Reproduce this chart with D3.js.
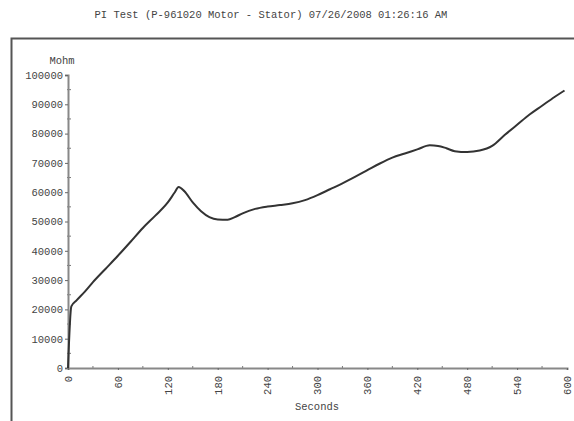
<!DOCTYPE html>
<html>
<head>
<meta charset="utf-8">
<script src="https://cdn.jsdelivr.net/npm/d3@7"></script>
<style>
  body { margin: 0; background: #fff; }
  text { font-family: "Liberation Mono", "DejaVu Sans Mono", monospace; fill: #444; }
</style>
</head>
<body>
<script>
const title = "PI Test (P-961020 Motor - Stator) 07/26/2008 01:26:16 AM";
const seconds = [0, 4, 10, 20, 30, 45, 60, 75, 90, 105, 120, 128, 133, 140, 150, 160, 170, 180, 192, 200,
  210, 225, 240, 255, 270, 285, 300, 315, 330, 345, 360, 375, 390, 405, 420, 435, 445, 455, 465, 480,
  495, 510, 525, 540, 555, 570, 585, 597];
const mohm = [0, 21000, 23000, 26000, 29300, 33800, 38300, 43000, 47800, 52000, 56500, 59800, 61800, 60300,
  56500, 53500, 51500, 50700, 50600, 51400, 52800, 54300, 55100, 55600, 56200, 57300, 59000, 61000, 63000,
  65200, 67500, 69800, 71800, 73200, 74600, 76000, 75800, 75000, 74000, 73700, 74200, 75800, 79500, 83000,
  86500, 89500, 92500, 94700];
const xTicks = [0, 60, 120, 180, 240, 300, 360, 420, 480, 540, 600];
const yTicks = [0, 10000, 20000, 30000, 40000, 50000, 60000, 70000, 80000, 90000, 100000];

const width = 574;
const height = 421;

const svg = d3.select("body").append("svg")
  .attr("width", width)
  .attr("height", height);

// outer frame (only left and top edges are in view)
svg.append("path")
  .attr("d", "M11.5," + height + "V38.5H" + width)
  .attr("fill", "none")
  .attr("stroke", "#555")
  .attr("stroke-width", 2);

svg.append("text")
  .attr("x", 271)
  .attr("y", 18)
  .attr("text-anchor", "middle")
  .style("font-size", "10.5px")
  .text(title);

const x = d3.scaleLinear().domain([0, 600]).range([68, 567]);
const y = d3.scaleLinear().domain([0, 100000]).range([368, 75]);

// minor ticks
svg.append("g")
  .selectAll("line.yminor")
  .data(d3.range(5000, 100000, 10000))
  .enter().append("line")
  .attr("x1", x(0) - 1).attr("x2", x(0) + 3)
  .attr("y1", (d) => y(d)).attr("y2", (d) => y(d))
  .attr("stroke", "#777");

svg.append("g")
  .selectAll("line.xminor")
  .data(d3.range(30, 600, 60))
  .enter().append("line")
  .attr("x1", (d) => x(d)).attr("x2", (d) => x(d))
  .attr("y1", y(0) - 2).attr("y2", y(0) + 1)
  .attr("stroke", "#777");

const yAxis = svg.append("g")
  .attr("transform", "translate(" + x(0) + ",0)")
  .call(d3.axisLeft(y).tickValues(yTicks).tickFormat(d3.format("d")).tickSize(3).tickPadding(2));

const xAxis = svg.append("g")
  .attr("transform", "translate(0," + y(0) + ")")
  .call(d3.axisBottom(x).tickValues(xTicks).tickFormat(d3.format("d")).tickSize(2));

[yAxis, xAxis].forEach((g) => {
  g.select(".domain").attr("stroke", "#888").attr("stroke-width", 2);
  g.selectAll(".tick line").attr("stroke", "#666");
  g.selectAll("text").style("font-size", "10.5px").attr("fill", "#444")
    .style("font-family", "'Liberation Mono', monospace");
});

xAxis.selectAll("text")
  .attr("transform", "rotate(-90)")
  .attr("text-anchor", "end")
  .attr("x", -8)
  .attr("y", 0)
  .attr("dy", "0.32em");

svg.append("text")
  .attr("x", 62)
  .attr("y", 64)
  .attr("text-anchor", "middle")
  .style("font-size", "10.5px")
  .text("Mohm");

svg.append("text")
  .attr("x", 317)
  .attr("y", 410)
  .attr("text-anchor", "middle")
  .style("font-size", "10.5px")
  .text("Seconds");

const line = d3.line()
  .x((d, i) => x(seconds[i]))
  .y((d) => y(d))
  .curve(d3.curveMonotoneX);

svg.append("path")
  .datum(mohm)
  .attr("d", line)
  .attr("fill", "none")
  .attr("stroke", "#333")
  .attr("stroke-width", 2);
</script>
</body>
</html>
